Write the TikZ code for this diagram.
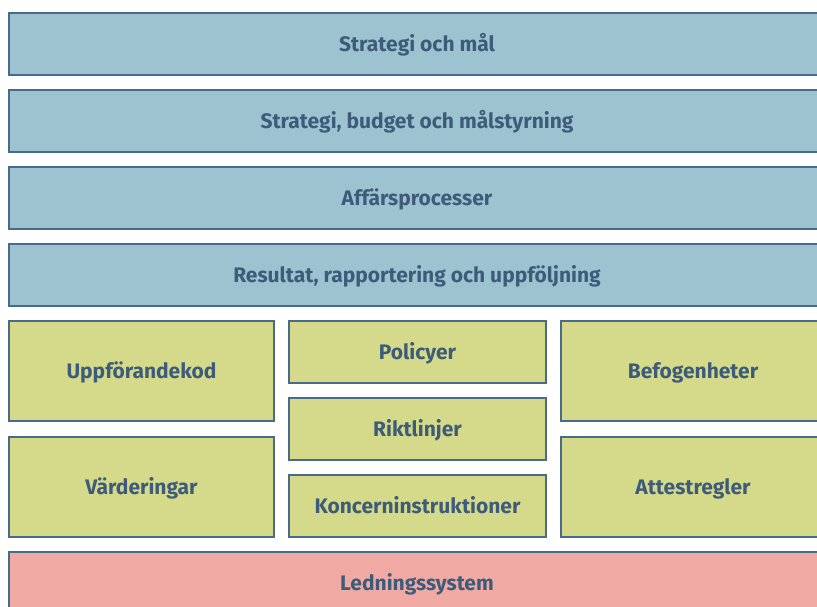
\documentclass[tikz,border=0pt]{standalone}
\usepackage{fontspec}
\setmainfont{Fira Sans}
\definecolor{bluefill}{HTML}{9DC3D1}
\definecolor{greenfill}{HTML}{D4DA8A}
\definecolor{pinkfill}{HTML}{F0AAA3}
\definecolor{edgecol}{HTML}{4A6A8A}
\definecolor{txtcol}{HTML}{3E5C7A}
\begin{document}
\begin{tikzpicture}[x=1pt,y=-1pt,
  box/.style={draw=edgecol, line width=1.1pt, inner sep=0pt, text=txtcol,
    font=\fontsize{21}{23}\selectfont\bfseries, anchor=center,
    text height=14.5pt, text depth=0pt},
  bluebox/.style={box, fill=bluefill, minimum width=816pt, minimum height=62pt},
  greenbox/.style={box, fill=greenfill},
  pinkbox/.style={box, fill=pinkfill, minimum width=816pt, minimum height=62pt}]
\useasboundingbox (0,0) rectangle (817,607);
\clip (0,0) rectangle (817,607);
\node[bluebox] (r1) at (417,44) {Strategi och mål};
\node[bluebox] (r2) at (417,121) {Strategi, budget och målstyrning};
\node[bluebox] (r3) at (417,198) {Affärsprocesser};
\node[bluebox] (r4) at (417,275) {Resultat, rapportering och uppföljning};
\node[greenbox, minimum width=265pt, minimum height=100pt] (l1) at (141.5,371) {Uppförandekod};
\node[greenbox, minimum width=265pt, minimum height=100pt] (l2) at (141.5,487) {Värderingar};
\node[greenbox, minimum width=257pt, minimum height=62pt] (m1) at (417.5,352) {Policyer};
\node[greenbox, minimum width=257pt, minimum height=62pt] (m2) at (417.5,429) {Riktlinjer};
\node[greenbox, minimum width=257pt, minimum height=62pt] (m3) at (417.5,506) {Koncerninstruktioner};
\node[greenbox, minimum width=264pt, minimum height=100pt] (q1) at (693,371) {Befogenheter};
\node[greenbox, minimum width=264pt, minimum height=100pt] (q2) at (693,487) {Attestregler};
\node[pinkbox] (b) at (417,583) {Ledningssystem};
\end{tikzpicture}
\end{document}
